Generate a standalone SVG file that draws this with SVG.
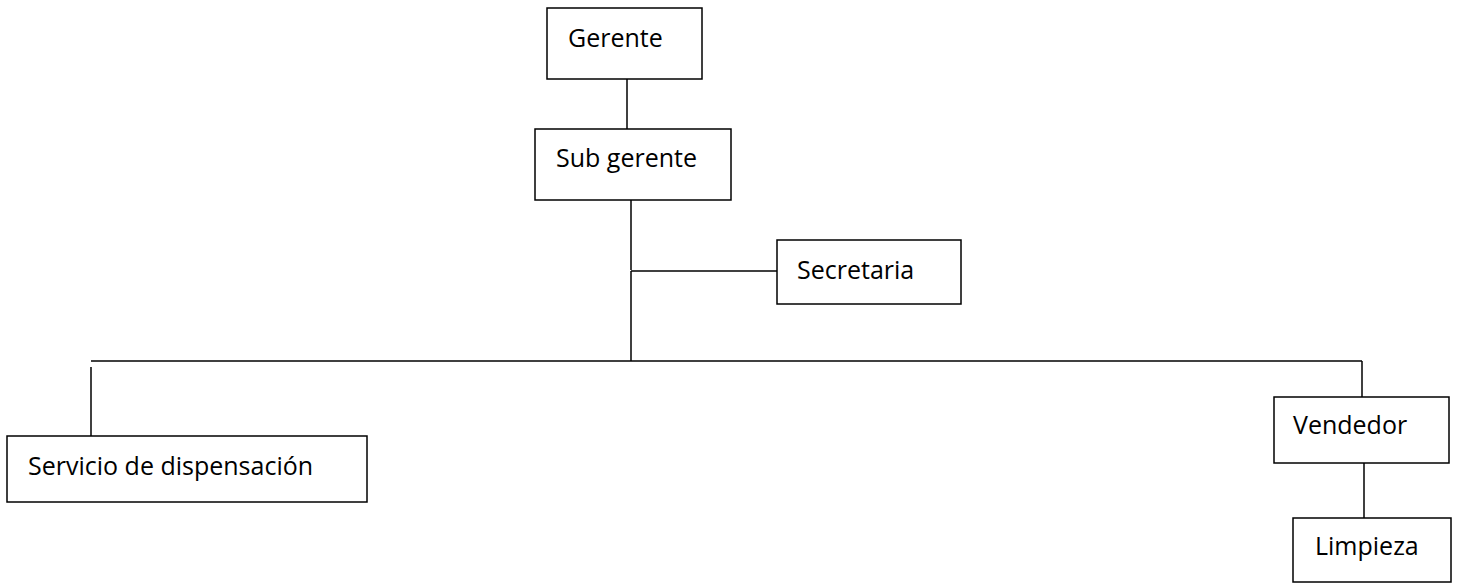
<svg xmlns="http://www.w3.org/2000/svg" width="1458" height="584" viewBox="0 0 1458 584">
<style>
.box{fill:#fff;stroke:#000;stroke-width:1.5}
.t{font-family:"Open Sans","Noto Sans",sans-serif;font-size:25px;fill:#000}
.c{stroke:#000;stroke-width:1.5;fill:none}
</style>
<rect width="1458" height="584" fill="#fff"/>
<g id="connectors">
<line class="c" x1="627" y1="79" x2="627" y2="129"/>
<line class="c" x1="631" y1="200" x2="631" y2="270"/>
<line class="c" x1="631" y1="271" x2="777" y2="271"/>
<line class="c" x1="631" y1="271" x2="631" y2="361"/>
<line class="c" x1="91" y1="361" x2="1362" y2="361"/>
<line class="c" x1="91" y1="367" x2="91" y2="436"/>
<line class="c" x1="1362" y1="361" x2="1362" y2="397"/>
<line class="c" x1="1364" y1="463" x2="1364" y2="518"/>
</g>
<g id="gerente"><rect class="box" x="547" y="8" width="155" height="71"/><text class="t" x="568" y="47">Gerente</text></g>
<g id="subgerente"><rect class="box" x="535" y="129" width="196" height="71"/><text class="t" x="556" y="167">Sub gerente</text></g>
<g id="secretaria"><rect class="box" x="777" y="240" width="184" height="64"/><text class="t" x="797" y="279">Secretaria</text></g>
<g id="servicio"><rect class="box" x="7" y="436" width="360" height="66"/><text class="t" x="28" y="475">Servicio de dispensación</text></g>
<g id="vendedor"><rect class="box" x="1274" y="397" width="175" height="66"/><text class="t" x="1293" y="434">Vendedor</text></g>
<g id="limpieza"><rect class="box" x="1293" y="518" width="158" height="64"/><text class="t" x="1315" y="555">Limpieza</text></g>
</svg>
